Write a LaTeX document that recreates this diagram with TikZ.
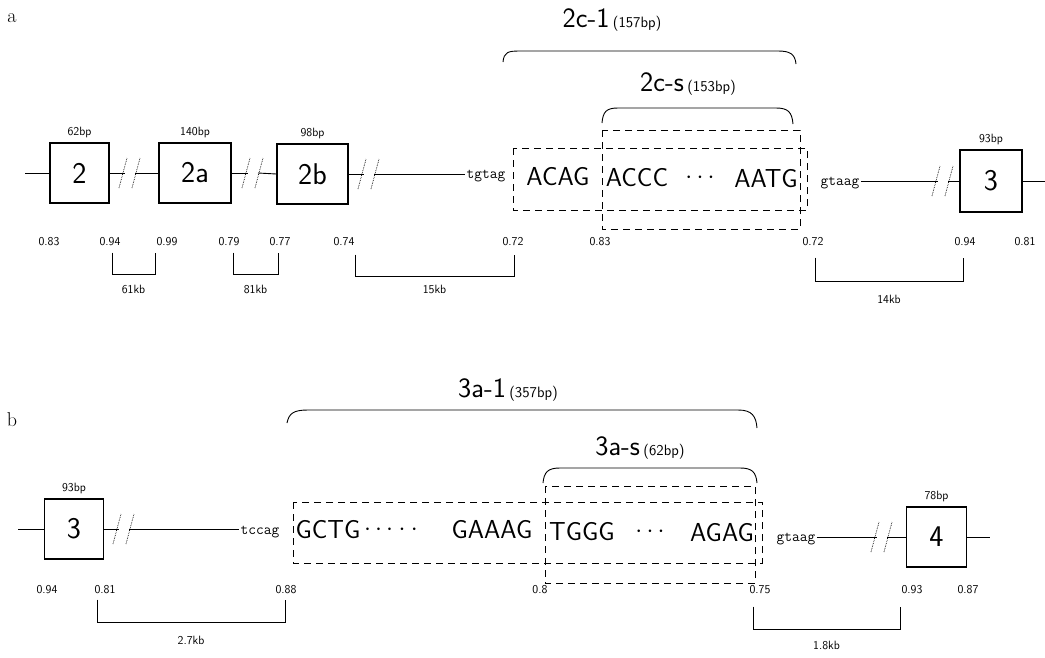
\documentclass[tikz,border=0pt]{standalone}
\usepackage{tikz}
\usetikzlibrary{calc,positioning}

\tikzset{
  exon/.style={draw, line width=1.1pt, minimum width=60pt, minimum height=60pt, inner sep=0pt,
    font=\sffamily\fontsize{30}{30}\selectfont},
  bp/.style={inner sep=1pt, font=\sffamily\fontsize{12}{12}\selectfont},
  score/.style={inner sep=1pt, font=\sffamily\fontsize{12}{12}\selectfont},
  kb/.style={inner sep=1pt, font=\sffamily\fontsize{12}{12}\selectfont},
  seq/.style={inner sep=0pt, font=\sffamily\fontsize{26}{26}\selectfont},
  site/.style={inner sep=1pt, font=\ttfamily\fontsize{15}{15}\selectfont},
  grp/.style={inner sep=0pt, font=\sffamily},
  panel/.style={font=\fontsize{20}{20}\selectfont},
  frag/.style={line width=0.9pt, dash pattern=on 7pt off 5pt},
  cutmark/.style={line width=0.7pt, densely dotted},
}
\newcommand{\cut}[1]{%
  \draw[cutmark] ($(#1)+(-11,15)$) -- ($(#1)+(-3,-15)$);
  \draw[cutmark] ($(#1)+(2,15)$) -- ($(#1)+(10,-15)$);}
\newcommand{\grplabel}[2]{{\fontsize{28}{28}\selectfont #1}\ {\fontsize{15}{15}\selectfont (#2)}}

\begin{document}
\begin{tikzpicture}[x=1pt,y=-1pt,line width=0.9pt]
\useasboundingbox (0,0) rectangle (1045,657);

% ---------- a ----------
\node[panel] (pa) at (12,18) {a};

\node[exon, minimum width=59pt] (e2) at (79.5,173) {2};
\node[exon, minimum width=72pt] (e2a) at (195,173) {2a};
\node[exon, minimum width=71pt] (e2b) at (312.5,174) {2b};
\node[exon, minimum width=62pt, minimum height=62pt] (e3a) at (991,181) {3};
\node[bp, above=3pt of e2] (bp2) {62bp};
\node[bp, above=3pt of e2a] (bp2a) {140bp};
\node[bp, above=3pt of e2b] (bp2b) {98bp};
\node[bp, above=3pt of e3a] (bp3a) {93bp};

\coordinate (g1) at (130,173);
\coordinate (g2) at (253,173);
\coordinate (g3) at (369,174);
\coordinate (g4) at (943,181);
\coordinate (a0) at (25,173);
\coordinate (a1) at (1045,181);

\node[site, anchor=base] (acc1) at (486,178) {tgtag};
\node[site, anchor=base] (don1) at (840,185) {gtaag};

\draw (a0) -- (e2.west);
\draw (e2.east) -- ([xshift=-5pt]g1);
\draw ([xshift=5pt]g1) -- (e2a.west);
\draw (e2a.east) -- ([xshift=-5pt]g2);
\draw ([xshift=5pt]g2) -- (e2b.west);
\draw (e2b.east) -- ([xshift=-5pt]g3);
\draw ([xshift=5pt]g3) -- (acc1.west |- g3);
\draw (don1.east |- g4) -- ([xshift=-5pt]g4);
\draw ([xshift=5pt]g4) -- (e3a.west);
\draw (e3a.east) -- (a1);
\cut{g1} \cut{g2} \cut{g3} \cut{g4}

% fragments 2c
\draw[frag] (513,148) rectangle (807,210);
\draw[frag] (602,130) rectangle (800,229);
\node[seq] (acag) at (558,177) {ACAG};
\node[seq] (accc) at (637,178) {ACCC};
\node[seq] (dots1) at (700,178) {$\cdots$};
\node[seq] (aatg) at (766,179) {AATG};

% braces
\draw (503,62) .. controls (504,52) and (508,51) .. (520,51) -- (778,51)
  .. controls (790,51) and (795,54) .. (796,64);
\draw (602,123) .. controls (603,112) and (606,108) .. (618,108) -- (776,108)
  .. controls (788,108) and (792,112) .. (793,124);
\node[grp] (l2c1) at (612,20) {\grplabel{2c-1}{157bp}};
\node[grp] (l2cs) at (688,84) {\grplabel{2c-s}{153bp}};

% scores
\node[score] (sa1) at (49,242) {0.83};
\node[score] (sa2) at (110,242) {0.94};
\node[score] (sa3) at (167,242) {0.99};
\node[score] (sa4) at (229,242) {0.79};
\node[score] (sa5) at (280,242) {0.77};
\node[score] (sa6) at (344,242) {0.74};
\node[score] (sa7) at (513,242) {0.72};
\node[score] (sa8) at (600,242) {0.83};
\node[score] (sa9) at (813,242) {0.72};
\node[score] (sa10) at (965,242) {0.94};
\node[score] (sa11) at (1025,242) {0.81};

\draw ([xshift=2pt,yshift=-5pt]sa2.south) -- ++(0,22)
  -| node[kb, pos=0.25, below=9pt] (d61) {61kb} ([xshift=-12pt,yshift=-5pt]sa3.south);
\draw ([xshift=4pt,yshift=-5pt]sa4.south) -- ++(0,22)
  -| node[kb, pos=0.25, below=9pt] (d81) {81kb} ([xshift=-2pt,yshift=-5pt]sa5.south);
\draw ([xshift=11pt,yshift=-7pt]sa6.south) -- ++(0,22)
  -| node[kb, pos=0.25, below=7pt] (d15) {15kb} ([xshift=1pt,yshift=-7pt]sa7.south);
\draw ([xshift=2pt,yshift=-10pt]sa9.south) -- ++(0,24)
  -| node[kb, pos=0.25, below=12pt] (d14) {14kb} ([xshift=-2pt,yshift=-10pt]sa10.south);

% ---------- b ----------
\node[panel] (pb) at (12,420) {b};

\node[exon, minimum width=59pt] (e3b) at (74,529) {3};
\node[exon] (e4) at (936.5,537) {4};
\node[bp, above=3pt of e3b] (bp3b) {93bp};
\node[bp, above=3pt of e4] (bp4) {78bp};

\coordinate (g5) at (124,529);
\coordinate (g6) at (882,537);
\coordinate (b0) at (18,529);
\coordinate (b1) at (990,537);

\node[site, anchor=base] (acc2) at (260,534) {tccag};
\node[site, anchor=base] (don2) at (796,541) {gtaag};

\draw (b0) -- (e3b.west);
\draw (e3b.east) -- ([xshift=-5pt]g5);
\draw ([xshift=5pt]g5) -- (acc2.west |- g5);
\draw (don2.east |- g6) -- ([xshift=-5pt]g6);
\draw ([xshift=5pt]g6) -- (e4.west);
\draw (e4.east) -- (b1);
\cut{g5} \cut{g6}

% fragments 3a
\draw[frag] (293,502) rectangle (762,563);
\draw[frag] (545,486) rectangle (755,583);
\node[seq] (gctg) at (328,530) {GCTG};
\node[seq] (dots2) at (391,530) {$\cdots\cdot\cdot$};
\node[seq] (gaaag) at (492,530) {GAAAG};
\node[seq] (tggg) at (582,532) {TGGG};
\node[seq] (dots3) at (650,532) {$\cdots$};
\node[seq] (agag) at (722,533) {AGAG};

% braces
\draw (287,423) .. controls (289,413) and (294,410) .. (308,410) -- (738,410)
  .. controls (752,410) and (756,416) .. (757,428);
\draw (543,483) .. controls (544,472) and (548,468) .. (560,468) -- (740,468)
  .. controls (752,468) and (756,472) .. (757,483);
\node[grp] (l3a1) at (508,390) {\grplabel{3a-1}{357bp}};
\node[grp] (l3as) at (640,448) {\grplabel{3a-s}{62bp}};

% scores
\node[score] (sb1) at (47,590) {0.94};
\node[score] (sb2) at (105,590) {0.81};
\node[score] (sb3) at (286,590) {0.88};
\node[score] (sb4) at (540,590) {0.8};
\node[score] (sb5) at (760,590) {0.75};
\node[score] (sb6) at (912,590) {0.93};
\node[score] (sb7) at (968,590) {0.87};

\draw ([xshift=-8pt,yshift=-4pt]sb2.south) -- ++(0,23)
  -| node[kb, pos=0.25, below=12pt] (d27) {2.7kb} ([xshift=-1pt,yshift=-4pt]sb3.south);
\draw ([xshift=-7pt,yshift=-11pt]sb5.south) -- ++(0,23)
  -| node[kb, pos=0.25, below=10pt] (d18) {1.8kb} ([xshift=-12pt,yshift=-11pt]sb6.south);

\end{tikzpicture}
\end{document}
